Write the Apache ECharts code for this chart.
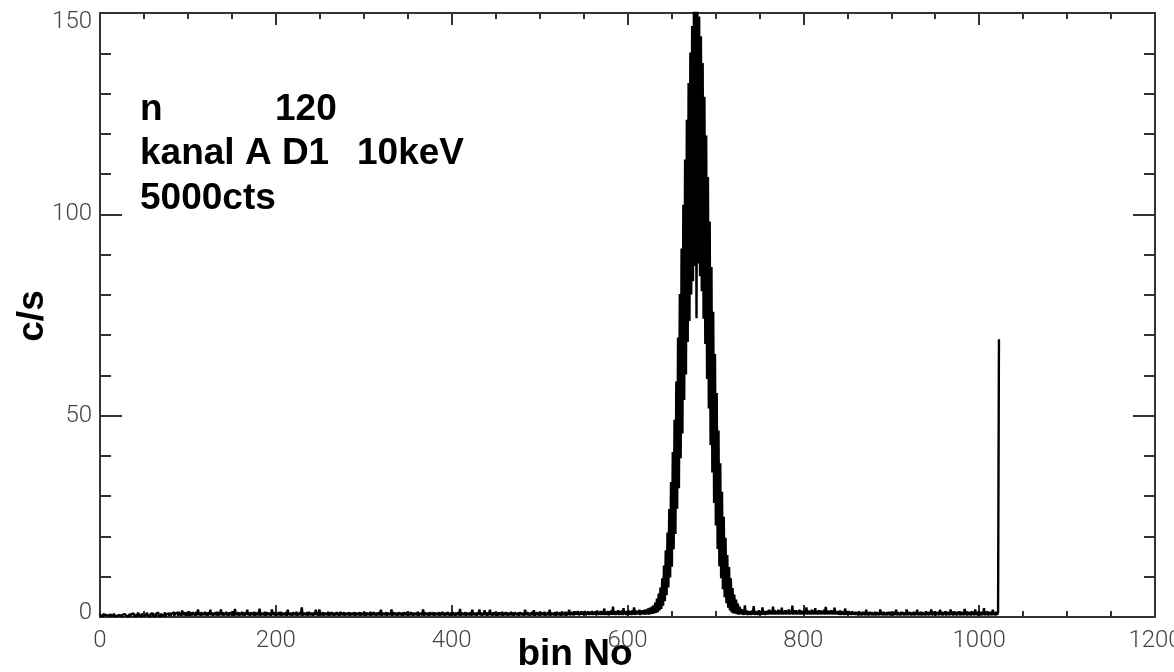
<!DOCTYPE html>
<html>
<head>
<meta charset="utf-8">
<script src="https://cdn.jsdelivr.net/npm/echarts@6/dist/echarts.min.js"></script>
<style>
  html, body { margin: 0; padding: 0; background: #fff; overflow: hidden; }
  #chart { width: 1174px; height: 672px; }
</style>
</head>
<body>
<div id="chart"></div>
<script>
// Pulse-height spectrum, count rate per bin (c/s), bins 0..1023

// bins 0-599: flat background
const countsLow = [
  0.8,0.3,0.6,0.2,0.7,0.4,0.5,0.1,0.8,0.3,0.6,0.3,0.7,0.2,0.5,0.4,0.9,0.2,0.6,0.3,
  0.7,0.2,0.5,0.3,0.8,0.1,0.6,0.4,0.7,0.3,1.0,0.2,0.6,0.3,0.8,0.2,0.7,0.4,0.9,0.3,
  0.6,0.2,0.8,0.3,1.1,0.4,0.7,0.2,0.9,0.3,0.6,0.4,0.8,0.2,1.0,0.3,0.7,0.2,0.8,0.4,
  0.9,0.3,0.6,0.2,0.8,0.4,1.1,0.3,0.7,0.2,0.9,0.4,0.8,0.3,1.2,0.2,0.7,0.4,0.9,0.3,
  1.0,0.3,0.8,0.4,1.2,0.2,0.9,0.5,1.1,0.3,1.3,0.4,1.0,0.3,1.6,0.5,1.1,0.4,1.2,0.3,
  1.0,0.5,1.4,0.3,1.1,0.4,1.2,0.5,1.0,0.3,1.3,0.4,1.9,0.5,1.1,0.3,1.2,0.4,1.0,0.5,
  1.3,0.4,1.1,0.3,1.2,0.5,1.8,0.4,1.1,0.3,1.0,0.5,1.2,0.4,1.3,0.3,1.1,0.5,1.9,0.4,
  1.2,0.3,1.0,0.5,1.3,0.4,1.1,0.3,1.2,0.5,1.0,0.4,1.4,0.3,2.0,0.5,1.1,0.4,1.2,0.3,
  1.0,0.5,1.3,0.4,1.1,0.3,1.2,0.5,1.8,0.4,1.0,0.3,1.2,0.5,1.1,0.4,1.3,0.3,1.0,0.5,
  1.2,0.4,2.1,0.3,1.1,0.5,1.0,0.4,1.3,0.3,1.2,0.5,1.1,0.4,1.0,0.3,1.9,0.5,1.2,0.4,
  1.1,0.3,1.0,0.5,1.2,0.4,1.3,0.3,1.1,0.5,1.0,0.4,1.2,0.3,1.8,0.5,1.1,0.4,1.0,0.3,
  1.2,0.5,1.1,0.4,1.3,0.3,1.0,0.5,1.2,0.4,2.4,0.3,1.1,0.5,1.0,0.4,1.2,0.3,1.3,0.5,
  1.1,0.4,1.0,0.3,1.2,0.5,1.8,0.4,1.1,0.3,1.9,0.5,1.0,0.4,1.2,0.3,1.1,0.5,1.0,0.4,
  1.3,0.3,1.1,0.5,1.2,0.4,1.0,0.3,1.1,0.5,1.2,0.4,1.0,0.3,1.3,0.5,1.1,0.4,1.2,0.3,
  1.0,0.5,1.1,0.4,1.2,0.3,1.0,0.5,1.1,0.4,1.2,0.3,1.1,0.5,1.0,0.4,1.2,0.3,1.1,0.5,
  1.0,0.4,1.2,0.3,1.1,0.5,1.0,0.4,1.3,0.3,1.1,0.5,1.2,0.4,1.0,0.3,1.1,0.5,1.2,0.4,
  1.8,0.3,1.1,0.5,1.0,0.4,1.2,0.3,1.1,0.5,1.0,0.4,1.9,0.3,1.2,0.5,1.1,0.4,1.0,0.3,
  1.2,0.5,1.1,0.4,1.0,0.3,1.2,0.5,1.1,0.4,1.3,0.3,1.0,0.5,1.2,0.4,1.1,0.3,1.0,0.5,
  1.1,0.4,1.3,0.3,1.0,0.5,1.1,0.4,1.9,0.3,1.2,0.5,1.0,0.4,1.1,0.3,1.2,0.5,1.0,0.4,
  1.2,0.3,1.1,0.5,1.0,0.4,1.2,0.3,1.1,0.5,1.3,0.4,1.0,0.3,1.1,0.5,1.2,0.4,1.0,0.3,
  1.1,0.5,1.2,0.4,1.0,0.3,1.1,0.5,1.2,0.4,2.0,0.3,1.1,0.5,1.0,0.4,1.2,0.3,1.1,0.5,
  1.0,0.4,1.2,0.3,1.8,0.5,1.1,0.4,1.0,0.3,1.2,0.5,1.9,0.4,1.1,0.3,1.0,0.5,1.7,0.4,
  1.2,0.3,1.1,0.5,1.8,0.4,1.0,0.3,1.2,0.5,1.1,0.4,1.0,0.3,1.2,0.5,1.1,0.4,1.3,0.3,
  1.0,0.5,1.2,0.4,1.1,0.3,1.0,0.5,1.3,0.4,1.1,0.3,1.2,0.5,1.0,0.4,1.1,0.3,1.2,0.5,
  1.1,0.4,1.0,0.3,1.8,0.5,1.2,0.4,1.1,0.3,1.0,0.5,1.3,0.4,1.7,0.3,1.1,0.5,1.2,0.4,
  1.0,0.3,1.2,0.5,1.1,0.4,1.3,0.3,1.0,0.5,1.2,0.4,1.8,0.3,1.1,0.5,1.0,0.4,1.2,0.3,
  1.3,0.5,1.1,0.4,1.2,0.3,1.4,0.5,1.1,0.4,1.3,0.3,1.2,0.5,1.8,0.4,1.3,0.5,1.2,0.4,
  1.4,0.5,1.3,0.6,1.5,0.4,1.2,0.5,1.4,0.6,1.3,0.5,1.5,0.4,1.3,0.6,1.4,0.5,1.2,0.6,
  1.5,0.5,1.3,0.6,1.4,0.4,1.6,0.5,1.3,0.6,1.5,0.5,1.4,0.6,2.1,0.5,1.3,0.6,1.5,0.4,
  1.4,0.6,1.6,0.5,2.6,0.6,1.4,0.5,1.5,0.6,1.7,0.5,1.4,0.6,1.6,0.5,2.2,0.6,1.5,0.5
];

// bins 600-759: the line (odd channels read low)
const countsPeak = [
  1.5,0.5,1.6,0.6,1.4,0.5,1.7,0.6,2.4,0.5,1.6,0.7,1.5,0.6,1.8,0.5,1.6,0.7,1.7,0.6,
  1.8,0.6,1.9,0.7,2.1,0.6,2.3,0.7,2.6,0.8,2.9,0.9,3.6,1.0,4.6,1.2,5.8,1.6,7.3,2.0,
  9.6,2.8,12.8,3.9,16.6,5.4,21.0,7.3,26.8,9.8,33.5,12.5,41.0,16.8,49.0,20.6,58.5,26.9,69.4,32.0,
  80.2,39.4,91.5,45.6,102.4,53.9,113.6,60.2,123.5,68.3,132.6,73.5,140.2,80.1,146.8,83.4,150.8,87.2,153.0,74.2,
  152.2,87.8,149.1,84.6,144.2,80.9,137.6,74.1,129.2,67.8,119.6,59.1,109.3,51.8,98.2,42.7,86.9,35.9,75.8,28.3,
  65.3,22.7,55.6,16.9,46.3,12.6,38.2,9.6,31.1,6.9,24.9,4.9,19.7,3.4,15.4,2.3,12.4,1.6,9.6,1.1,
  7.2,0.9,5.6,0.8,4.3,0.7,3.3,0.6,2.6,0.7,2.0,0.6,1.8,0.5,2.9,0.6,1.6,0.5,1.5,0.6,
  1.4,0.5,1.6,0.6,2.7,0.5,1.5,0.6,1.4,0.5,1.7,0.6,1.3,0.5,2.4,0.6,1.5,0.5,1.4,0.6
];

// bins 760-1023: background above the line, last channel collects overflow
const countsHigh = [
  1.6,0.6,1.8,0.7,1.5,0.6,2.6,0.7,1.7,0.6,1.5,0.7,1.8,0.6,1.6,0.7,2.3,0.6,1.5,0.7,
  1.7,0.6,1.6,0.7,1.9,0.6,1.5,0.7,2.8,0.6,1.6,0.7,1.7,0.6,1.5,0.7,1.8,0.6,1.6,0.7,
  1.5,0.6,1.7,0.7,2.4,0.6,1.6,0.7,1.5,0.6,1.8,0.7,1.6,0.6,2.2,0.7,1.5,0.6,1.7,0.7,
  1.6,0.6,1.5,0.7,1.8,0.6,2.5,0.7,1.6,0.6,1.5,0.7,1.7,0.6,1.6,0.7,2.3,0.6,1.5,0.7,
  1.4,0.6,1.6,0.5,1.5,0.6,1.3,0.5,2.1,0.6,1.4,0.5,1.5,0.6,1.3,0.5,1.4,0.6,1.2,0.5,
  1.3,0.5,1.2,0.4,1.4,0.5,1.1,0.4,1.3,0.5,1.2,0.4,1.8,0.5,1.1,0.4,1.3,0.5,1.2,0.4,
  1.1,0.5,1.3,0.4,1.2,0.5,1.1,0.4,1.9,0.5,1.2,0.4,1.3,0.5,1.1,0.4,1.2,0.5,1.3,0.4,
  1.2,0.5,1.1,0.4,1.3,0.5,1.8,0.4,1.2,0.5,1.1,0.4,1.3,0.5,1.2,0.4,1.1,0.5,1.9,0.4,
  1.3,0.5,1.2,0.4,1.1,0.5,1.3,0.4,1.2,0.5,1.8,0.4,1.1,0.5,1.3,0.4,1.2,0.5,1.1,0.4,
  1.4,0.5,1.2,0.4,1.3,0.5,1.9,0.4,1.2,0.5,1.4,0.4,1.3,0.5,1.2,0.4,1.8,0.5,1.3,0.4,
  1.2,0.5,1.4,0.4,1.3,0.5,1.2,0.4,1.9,0.5,1.3,0.4,1.4,0.5,1.2,0.4,1.3,0.5,1.4,0.4,
  1.3,0.5,1.2,0.4,2.0,0.5,1.4,0.4,1.3,0.5,1.2,0.4,1.4,0.5,1.3,0.4,1.9,0.5,1.2,0.4,
  1.4,0.5,1.3,0.4,1.2,0.5,2.2,0.4,1.3,0.5,1.4,0.4,1.2,0.5,1.3,0.4,1.8,0.5,1.2,0.4,
  1.3,0.5,1.2,69
];

// axis ranges
const xRange = [0, 1200];
const xStep = 200;
const yRange = [0, 150];
const yStep = 50;

// text block in the upper left
const infoLines = [
  ['n', '120'],
  ['kanal A D1', '10keV'],
  ['5000cts', '']
];
const xTitle = 'bin No';
const yTitle = 'c/s';

const counts = countsLow.concat(countsPeak, countsHigh);
const histogram = counts.map((v, i) => [i, v]);

const FRAME = '#333';
const tickFont = { fontFamily: 'Roboto', fontWeight: 300, fontSize: 24, color: '#444' };
const boldFont = 'bold 37px "Liberation Sans", Arial, sans-serif';

function xAxisDef(pos, showLabel) {
  return {
    type: 'value', position: pos, min: xRange[0], max: xRange[1], interval: xStep,
    axisLine: { show: true, onZero: false, lineStyle: { color: FRAME, width: 2 } },
    axisTick: { show: true, inside: true, length: 12, lineStyle: { color: FRAME, width: 2 } },
    minorTick: { show: true, splitNumber: 4, length: 6, lineStyle: { color: FRAME, width: 2 } },
    splitLine: { show: false },
    axisLabel: Object.assign({
      show: showLabel, margin: 12,
      formatter: function (v) { return String(v); }
    }, tickFont)
  };
}

function yAxisDef(pos, showLabel) {
  return {
    type: 'value', position: pos, min: yRange[0], max: yRange[1], interval: yStep,
    axisLine: { show: true, onZero: false, lineStyle: { color: FRAME, width: 2 } },
    axisTick: { show: true, inside: true, length: 22, lineStyle: { color: FRAME, width: 2 } },
    minorTick: { show: true, splitNumber: 5, length: 11, lineStyle: { color: FRAME, width: 2 } },
    splitLine: { show: false },
    axisLabel: Object.assign({
      show: showLabel, margin: 8,
      formatter: function (v) {
        if (v === yRange[0]) return '{lo|' + v + '}';
        if (v === yRange[1]) return '{hi|' + v + '}';
        return String(v);
      },
      rich: {
        lo: Object.assign({ padding: [0, 0, 8, 0] }, tickFont),
        hi: Object.assign({ padding: [17, 0, 0, 0] }, tickFont)
      }
    }, tickFont)
  };
}

const graphics = [];
const lineY = [110, 154, 199];
infoLines.forEach((pair, k) => {
  graphics.push({ type: 'text', x: 140, y: lineY[k],
    style: { text: pair[0], font: boldFont, fill: '#000', verticalAlign: 'middle' } });
  if (pair[1]) {
    graphics.push({ type: 'text', x: k === 0 ? 275 : 357, y: lineY[k],
      style: { text: pair[1], font: boldFont, fill: '#000', verticalAlign: 'middle' } });
  }
});
graphics.push({ type: 'text', x: 575, y: 655,
  style: { text: xTitle, font: boldFont, fill: '#000', align: 'center', verticalAlign: 'middle' } });
graphics.push({ type: 'text', x: 33, y: 316, rotation: Math.PI / 2,
  style: { text: yTitle, font: boldFont, fill: '#000', align: 'center', verticalAlign: 'middle' } });

const chart = echarts.init(document.getElementById('chart'), null, { renderer: 'canvas' });
chart.setOption({
  animation: false,
  backgroundColor: '#fff',
  grid: { left: 100, right: 19, top: 13, bottom: 55, containLabel: false, outerBoundsMode: 'none' },
  xAxis: [xAxisDef('bottom', true), xAxisDef('top', false)],
  yAxis: [yAxisDef('left', true), yAxisDef('right', false)],
  series: [{
    type: 'line',
    data: histogram,
    step: 'middle',
    showSymbol: false,
    symbol: 'none',
    clip: true,
    sampling: null,
    lineStyle: { color: '#000', width: 2.4 }
  }],
  graphic: graphics
});
</script>
</body>
</html>
